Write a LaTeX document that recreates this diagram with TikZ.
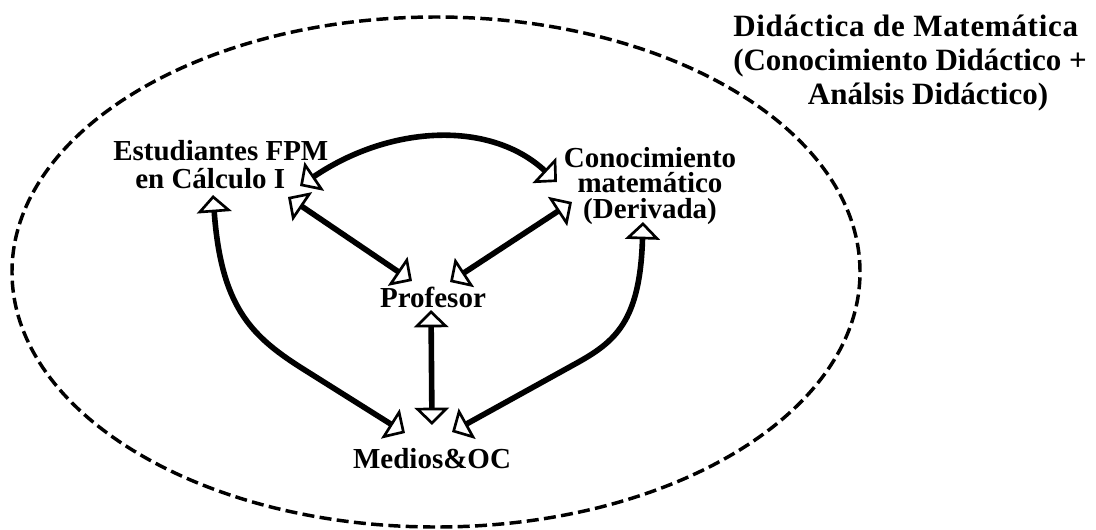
\documentclass[tikz,border=0pt]{standalone}
\usepackage{fontspec}
\setmainfont{Liberation Serif}
\usetikzlibrary{arrows.meta}
\begin{document}
\begin{tikzpicture}[x=0.75pt,y=-0.75pt,
  lbl/.style={font=\bfseries\fontsize{21.75}{21}\selectfont, inner sep=0pt},
  lblc/.style={font=\bfseries\fontsize{21.75}{19.2}\selectfont, inner sep=0pt},
  ttl/.style={font=\bfseries\fontsize{23.25}{25.5}\selectfont, inner sep=0pt},
  link/.style={line width=4.2pt,
    {Triangle[open,length=13pt,width=26pt,line width=2pt]}-{Triangle[open,length=13pt,width=26pt,line width=2pt]}},
  frame/.style={dash pattern=on 9pt off 4pt, line width=2.6pt}]
\useasboundingbox (0,0) rectangle (1096,529);
\draw[frame] (436,272) ellipse [x radius=318pt, y radius=191.25pt];
\node[lbl, align=left, anchor=north west] (est) at (113,140.4)
  {Estudiantes FPM\\\hspace*{16.5pt}en Cálculo I};
\node[lblc, align=center, anchor=north] (con) at (650,147)
  {Conocimiento\\matemático\\(Derivada)};
\node[lbl, anchor=base] (prof) at (433,307) {Profesor};
\node[lbl, anchor=base] (med) at (432,468) {Medios\&OC};
\node[ttl, align=left, anchor=north west] (title) at (733,15)
  {{\addfontfeature{LetterSpace=2.3}Didáctica de Matemática}\\(Conocimiento Didáctico +\\\hspace*{56pt}Análsis Didáctico)};
% connectors
\draw[link] ([shift={(187,45.6)}]est.north west) .. controls +(90,-61) and +(-67,-62) .. ([shift={(-93,35)}]con.north);
\draw[link] ([shift={(175,56.6)}]est.north west) -- ([shift={(-21,-26)}]prof.base);
\draw[link] ([shift={(-78,55)}]con.north) -- ([shift={(17,-25)}]prof.base);
\draw[link] ([shift={(-2,3)}]prof.base) -- ([shift={(0,-43)}]med.base);
\draw[link] ([shift={(100,54.6)}]est.north west) .. controls +(8,110) and +(-50,-32) .. ++(87,172) -- ([shift={(-27,-35)}]med.base);
\draw[link] ([shift={(-7,75)}]con.north) .. controls +(-3,100) and +(40,-22) .. ++(-68,142) -- ([shift={(20,-36)}]med.base);
\end{tikzpicture}
\end{document}
